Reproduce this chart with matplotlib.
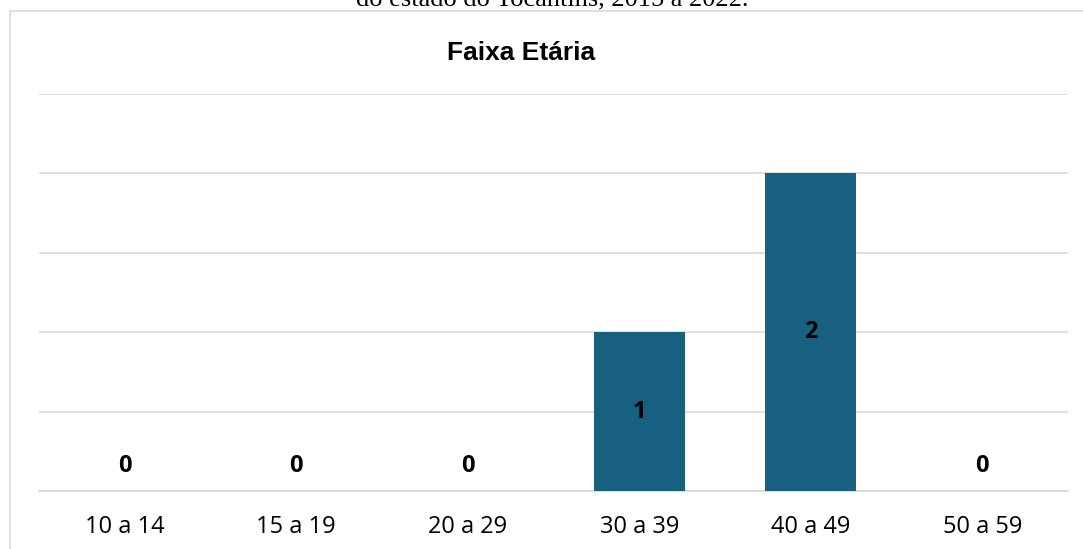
import matplotlib.pyplot as plt
import matplotlib.patches as patches

# data
faixas = ['10 a 14', '15 a 19', '20 a 29', '30 a 39', '40 a 49', '50 a 59']
casos = [0, 0, 0, 1, 2, 0]

bar_color = '#17607F'
grid_color = '#D9D9D9'

fig = plt.figure(figsize=(10.83, 5.49), dpi=100)
fig.patch.set_facecolor('white')

# outer chart frame (cut on right / bottom like the screenshot)
frame = patches.Rectangle((10 / 1083, -0.01), 1.02, 1 - 11 / 549 + 0.01,
                          transform=fig.transFigure, fill=False,
                          edgecolor=grid_color, lw=1.2, clip_on=False)
fig.patches.append(frame)

# caption of the figure, cut off at the top
fig.text(552 / 1083, 1 - 5 / 549, 'do estado do Tocantins, 2015 a 2022.',
         ha='center', va='baseline', family='Liberation Serif', fontsize=19)

ax = fig.add_axes([39 / 1083, 1 - 491 / 549, 1029 / 1083, 397 / 549])
x = range(len(faixas))
ax.bar(x, casos, width=0.53, color=bar_color, zorder=3)

ax.set_xlim(-0.5, len(faixas) - 0.5)
ax.set_ylim(0, 2.5)
ax.set_yticks([0, 0.5, 1, 1.5, 2, 2.5])
ax.yaxis.grid(True, color=grid_color, lw=1.2, zorder=0)
ax.tick_params(axis='y', left=False, labelleft=False)
ax.tick_params(axis='x', bottom=False, pad=14)
ax.set_xticks(list(x))
ax.set_xticklabels(faixas, family='Open Sans', fontsize=17)

for s in ['top', 'right', 'left']:
    ax.spines[s].set_visible(False)
ax.spines['bottom'].set_color(grid_color)
ax.spines['bottom'].set_linewidth(1.2)

for i, v in enumerate(casos):
    y = v / 2 if v > 0 else 0.16
    ax.text(i, y, str(v), ha='center', va='center', fontsize=17,
            fontweight='bold', family='Open Sans', zorder=4)

fig.text(521 / 1083, 1 - 53 / 549, 'Faixa Etária', ha='center', va='center',
         fontsize=19, fontweight='bold', family='Liberation Sans')

fig.savefig('out.png', dpi=100)
